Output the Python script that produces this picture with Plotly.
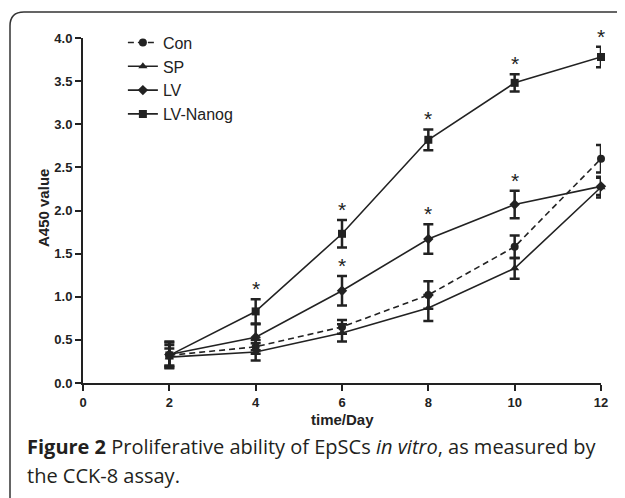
import plotly.graph_objects as go

days = [2, 4, 6, 8, 10, 12]
con = [0.32, 0.42, 0.65, 1.02, 1.58, 2.60]
con_err = [0.12, 0.08, 0.08, 0.16, 0.13, 0.16]
sp = [0.30, 0.36, 0.58, 0.87, 1.33, 2.27]
sp_err = [0.10, 0.10, 0.10, 0.15, 0.12, 0.12]
lv = [0.33, 0.53, 1.07, 1.67, 2.07, 2.28]
lv_err = [0.15, 0.15, 0.17, 0.17, 0.16, 0.10]
nanog = [0.32, 0.83, 1.73, 2.82, 3.48, 3.78]
nanog_err = [0.15, 0.14, 0.16, 0.12, 0.10, 0.12]
lv_sig = [False, False, True, True, True, False]
nanog_sig = [False, True, True, True, True, True]

x_ticks = [0, 2, 4, 6, 8, 10, 12]
y_ticks = [0.0, 0.5, 1.0, 1.5, 2.0, 2.5, 3.0, 3.5, 4.0]

INK = "#222222"
FONT = "Liberation Sans, Arial"
fig = go.Figure()

series = [
    ("Con", con, con_err, "circle", "6px,4px"),
    ("SP", sp, sp_err, "triangle-up", "solid"),
    ("LV", lv, lv_err, "diamond", "solid"),
    ("LV-Nanog", nanog, nanog_err, "square", "solid"),
]
for name, vals, errs, sym, dash in series:
    fig.add_trace(go.Scatter(
        x=days, y=vals, name=name, mode="lines+markers",
        line=dict(color=INK, width=1.6, dash=dash),
        marker=dict(symbol=sym, size=8, color=INK),
        error_y=dict(type="data", array=errs, visible=True,
                     color=INK, thickness=2.5, width=5),
        cliponaxis=False,
    ))

# plot area on screen: x 83..601, y 38..383 (page has an 8px body offset)
def px2x(px):
    return (px - 83) / 518.0

def py2y(py):
    return (383 - py) / 345.0

annotations = []
for vals, errs, sig in [(lv, lv_err, lv_sig), (nanog, nanog_err, nanog_sig)]:
    for d, v, e, s in zip(days, vals, errs, sig):
        if s:
            annotations.append(dict(
                x=d, y=v + e, xref="x", yref="y", text="*",
                showarrow=False, yanchor="bottom", yshift=-3,
                font=dict(family=FONT, size=21, color=INK),
            ))

# axis titles
annotations.append(dict(
    xref="paper", yref="paper", x=px2x(342), y=py2y(420),
    xanchor="center", yanchor="middle", showarrow=False,
    text="<b>time/Day</b>", font=dict(family=FONT, size=15, color=INK),
))
annotations.append(dict(
    xref="paper", yref="paper", x=px2x(43), y=py2y(208),
    xanchor="center", yanchor="middle", showarrow=False, textangle=-90,
    text="<b>A450 value</b>", font=dict(family=FONT, size=15, color=INK),
))

# caption
annotations.append(dict(
    xref="paper", yref="paper", x=px2x(25), y=py2y(446),
    xanchor="left", yanchor="middle", align="left", showarrow=False,
    text="<b>Figure 2</b> Proliferative ability of EpSCs <i>in vitro</i>, as measured by",
    font=dict(family="Open Sans", size=20, color="#231f20"),
))
annotations.append(dict(
    xref="paper", yref="paper", x=px2x(25), y=py2y(475),
    xanchor="left", yanchor="middle", align="left", showarrow=False,
    text="the CCK-8 assay.",
    font=dict(family="Open Sans", size=20, color="#231f20"),
))

# frame with rounded top-left corner (paper coords)
x0, yt, r = px2x(10), py2y(12), 14
path = (f"M {x0},{py2y(520)} L {x0},{py2y(12 + r)} "
        f"Q {x0},{yt} {px2x(10 + r)},{yt} L {px2x(660)},{yt}")

fig.update_layout(
    width=625, height=498,
    margin=dict(l=75, r=32, t=30, b=123, autoexpand=False),
    paper_bgcolor="white", plot_bgcolor="white",
    showlegend=True,
    legend=dict(x=0.077, y=1.036, xanchor="left", yanchor="top",
                font=dict(family=FONT, size=16, color=INK),
                itemwidth=30, bgcolor="rgba(0,0,0,0)"),
    xaxis=dict(range=[0, 12], tickvals=x_ticks, ticktext=[f"<b>{t}</b>" for t in x_ticks],
               showline=True, linecolor=INK, linewidth=2, ticks="outside",
               ticklen=6, tickwidth=2, tickcolor=INK, showgrid=False, zeroline=False,
               tickfont=dict(family=FONT, size=13, color=INK)),
    yaxis=dict(range=[0, 4], tickvals=y_ticks, ticktext=[f"<b>{t:.1f}</b>" for t in y_ticks],
               showline=True, linecolor=INK, linewidth=2, ticks="outside",
               ticklen=6, tickwidth=2, tickcolor=INK, showgrid=False, zeroline=False,
               tickfont=dict(family=FONT, size=13, color=INK)),
    annotations=annotations,
    shapes=[dict(type="path", path=path, xref="paper", yref="paper",
                 line=dict(color="#333333", width=1.5))],
)

fig.write_html("out.html")
